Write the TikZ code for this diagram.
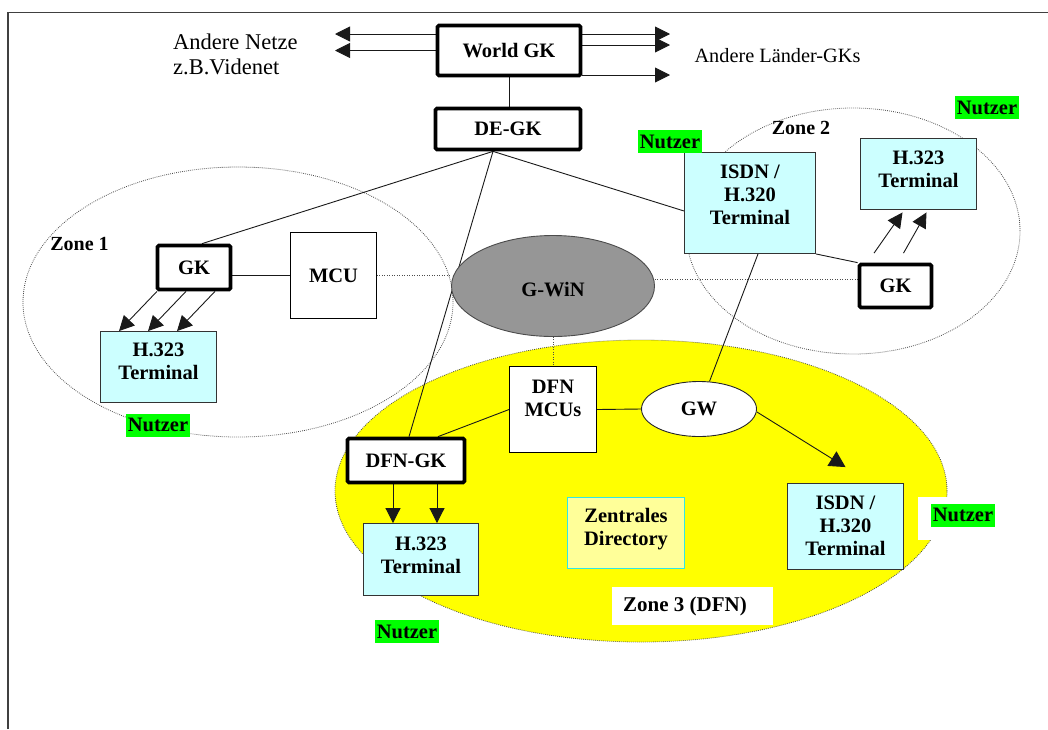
\documentclass[tikz,border=0pt]{standalone}
\usepackage{fontspec}
\setmainfont{Liberation Serif}
\usetikzlibrary{arrows.meta,backgrounds,shapes.geometric}
\definecolor{termcyan}{HTML}{CCFFFF}
\definecolor{nutzgreen}{HTML}{00FF00}
\definecolor{zoneyellow}{HTML}{FFFF00}
\definecolor{dirfill}{HTML}{FFFF99}
\definecolor{dirborder}{HTML}{33E6E6}
\definecolor{gwinfill}{HTML}{969696}
\definecolor{framegray}{HTML}{404040}
\begin{document}
\begin{tikzpicture}[x=1pt,y=-1pt,
  bfont/.style={font=\fontsize{20.5}{23}\selectfont\bfseries},
  gkbox/.style={draw, line width=3.75pt, rounded corners=1.5pt, fill=white, inner sep=0pt, bfont},
  plainbox/.style={draw, line width=0.9pt, fill=white, inner sep=0pt, bfont},
  termbox/.style={draw=black!80, line width=0.9pt, fill=termcyan, inner sep=0pt},
  txt/.style={bfont, align=center, inner sep=0pt},
  nutzer/.style={fill=nutzgreen, inner xsep=1.5pt, inner ysep=0pt, minimum height=23pt, font=\fontsize{20.5}{23}\selectfont\bfseries},
  zonelbl/.style={inner sep=0pt, font=\fontsize{20}{22}\selectfont\bfseries},
  zoneell/.style={draw=black!70, line width=0.8pt, dash pattern=on 0.8pt off 1.2pt},
  conn/.style={draw=black!90, line width=0.9pt},
  dots/.style={draw=black!70, line width=0.9pt, dash pattern=on 1pt off 1.5pt},
  arr/.style={conn, -{Triangle[length=15pt,width=15pt]}},
  bigarr/.style={conn, -{Triangle[length=16pt,width=17pt]}},
]
\useasboundingbox (0,0) rectangle (1048,729);

% ---------- nodes ----------
\node[gkbox, minimum width=143pt, minimum height=50pt] (wgk) at (509,50.5) {World GK};
\node[gkbox, minimum width=145pt, minimum height=41pt] (deg) at (508,129) {DE-GK};

\node[gkbox, minimum width=73pt, minimum height=44pt] (gk1) at (194,267.5) {GK};
\node[plainbox, minimum width=86pt, minimum height=86pt] (mcu) at (333.5,275.5) {MCU};
\node[termbox, minimum width=116pt, minimum height=71pt] (h31) at (158.5,367) {};
\node[txt] (h31t) at (158.5,361.5) {H.323\\Terminal};

\node[ellipse, draw=black!70, line width=0.9pt, fill=gwinfill, inner sep=0pt, minimum width=203pt, minimum height=101pt] (gwin) at (553,286) {};
\node[txt] (gwint) at (553,290) {G-WiN};

\node[termbox, minimum width=131pt, minimum height=101pt] (isdn2) at (750,203) {};
\node[txt] (isdn2t) at (750,195) {ISDN /\\H.320\\Terminal};
\node[termbox, minimum width=116pt, minimum height=71pt] (h32) at (918.5,174) {};
\node[txt] (h32t) at (918.5,169) {H.323\\Terminal};
\node[gkbox, minimum width=72pt, minimum height=43pt] (gk2) at (895.5,286) {GK};

\node[plainbox, minimum width=87pt, minimum height=86pt] (dfnmcu) at (553,409.5) {};
\node[txt] (dfnmcut) at (553,398) {DFN\\MCUs};
\node[ellipse, draw=black!85, line width=0.9pt, fill=white, inner sep=0pt, minimum width=115pt, minimum height=55pt, bfont] (gw) at (699,409) {GW};
\node[gkbox, minimum width=117pt, minimum height=44pt] (dfngk) at (406,460.5) {DFN-GK};
\node[termbox, minimum width=115pt, minimum height=72pt] (h33) at (421,559.5) {};
\node[txt] (h33t) at (421,555) {H.323\\Terminal};
\node[draw=dirborder, line width=0.9pt, fill=dirfill, inner sep=0pt, minimum width=117pt, minimum height=71pt] (dir) at (626,533) {};
\node[txt] (dirt) at (626,529.5) {Zentrales\\Directory};
\node[termbox, minimum width=116pt, minimum height=86pt] (isdn3) at (845.5,526.5) {};
\node[txt] (isdn3t) at (845.5,526) {ISDN /\\H.320\\Terminal};

% labels
\node[anchor=west, align=left, inner sep=0pt, font=\fontsize{22.5}{25}\selectfont] (netze) at (173,54.5) {Andere Netze\\z.B.Videnet};
\node[inner sep=0pt, font=\fontsize{20.3}{23}\selectfont] (laender) at (777.5,56) {Andere Länder-GKs};
\node[zonelbl] (z1) at (79.5,244) {Zone 1};
\node[zonelbl] (z2) at (801,128) {Zone 2};
\node[zonelbl, font=\fontsize{21}{22}\selectfont\bfseries] (z3) at (685,606) {Zone 3 (DFN)};

\node[nutzer] (n1) at (158,425) {Nutzer};
\node[nutzer] (n2) at (670,141.5) {Nutzer};
\node[nutzer] (n3) at (987,107.5) {Nutzer};
\node[nutzer] (n4) at (407,631.5) {Nutzer};
\node[nutzer] (n5) at (963,515) {Nutzer};

% free ends and helper points
\coordinate (la1) at (335,34);
\coordinate (la2) at (335,50.5);
\coordinate (ra1) at (670,34);
\coordinate (ra2) at (670,45);
\coordinate (ra3) at (670,75);
\coordinate (deroot) at ([xshift=-15pt]deg.south);
\coordinate (gwr) at ([yshift=7pt]gwin.east);
\coordinate (g1a) at ([xshift=-37pt]gk1.south);
\coordinate (g1b) at ([xshift=-8pt]gk1.south);
\coordinate (g1c) at ([xshift=21pt]gk1.south);
\coordinate (t1a) at ([xshift=-39.5pt]h31.north);
\coordinate (t1b) at ([xshift=-10.5pt]h31.north);
\coordinate (t1c) at ([xshift=18.5pt]h31.north);
\coordinate (g2a) at ([xshift=-21.5pt,yshift=9.5pt]gk2.north);
\coordinate (g2b) at ([xshift=8pt,yshift=9.5pt]gk2.north);
\coordinate (t2a) at ([xshift=-16pt,yshift=-2.5pt]h32.south);
\coordinate (t2b) at ([xshift=8pt,yshift=-2.5pt]h32.south);
\coordinate (d1) at ([xshift=-13pt]dfngk.south);
\coordinate (d2) at ([xshift=31pt]dfngk.south);

\begin{pgfonlayer}{background}
  % frame
  \draw[framegray, line width=1.5pt] (8,729) -- (8,12.5) -- (1048,12.5);
  % zone 3
  \fill[zoneyellow] (641,491) ellipse [x radius=306pt, y radius=151pt];
  \draw[zoneell] (641,491) ellipse [x radius=306pt, y radius=151pt];
  % zones 1,2
  \draw[zoneell] (238,302) ellipse [x radius=215pt, y radius=135pt];
  \draw[zoneell] (853,231) ellipse [x radius=167pt, y radius=123pt];
  % white patches
  \fill[white] (612,587) rectangle (773,625);
  \fill[white] (918,497) rectangle (995,540);

  % connectors
  \draw[conn] (wgk.south) -- (wgk.south |- deg.north);
  \draw[arr] ([yshift=16.5pt]wgk.west) -- (la1);
  \draw[arr] (wgk.west) -- (la2);
  \draw[arr] ([yshift=16.5pt]wgk.east) -- (ra1);
  \draw[arr] ([yshift=5.5pt]wgk.east) -- (ra2);
  \draw[arr] ([yshift=-24.5pt]wgk.east) -- (ra3);

  \draw[conn] (deroot) -- ([xshift=8pt]gk1.north);
  \draw[conn] (deroot) -- ([xshift=3pt]dfngk.north);
  \draw[conn] (deroot) -- ([yshift=-8pt]isdn2.west);

  \draw[conn] (mcu.west -| gk1.east) -- (mcu.west);
  \draw[dots] (mcu.east) -- (mcu.east -| gwin.west);
  \draw[dots] (gwr) -- (gwr -| gk2.west);
  \draw[dots] (gwin.south) -- (dfnmcu.north);

  \draw[arr] (g1a) -- (t1a);
  \draw[arr] (g1b) -- (t1b);
  \draw[arr] (g1c) -- (t1c);

  \draw[arr] (g2a) -- (t2a);
  \draw[arr] (g2b) -- (t2b);
  \draw[conn] (isdn2.south east) -- (gk2.north west);
  \draw[conn] ([xshift=8pt]isdn2.south) -- (gw);

  \draw[conn] (dfnmcu.east) -- (gw.west);
  \draw[conn] (dfnmcu.west) -- ([xshift=32pt]dfngk.north);
  \draw[arr] (d1) -- (d1 |- h33.north);
  \draw[arr] (d2) -- (d2 |- h33.north);
  \draw[bigarr] ([yshift=-3pt]gw.east) -- ([yshift=16pt]isdn3.north);
\end{pgfonlayer}
\end{tikzpicture}
\end{document}
